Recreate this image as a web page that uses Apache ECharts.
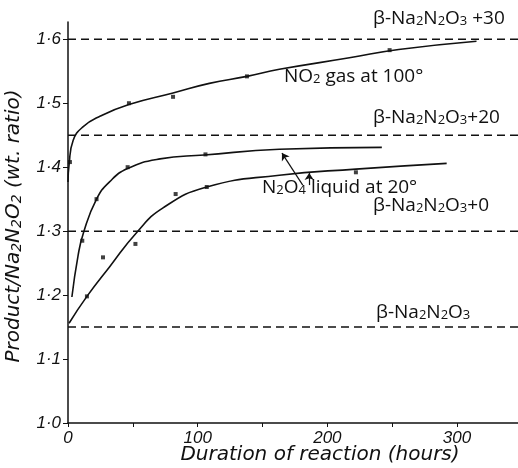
<!DOCTYPE html>
<head>
    <meta charset="utf-8">
    <title>Fig. 2</title>
    <style>
        html, body { margin: 0; padding: 0; background: #fff; }
        #chart { width: 518px; height: 468px; }
    </style>
</head>
<body>
    <div id="chart"></div>

    <script src="https://cdn.jsdelivr.net/npm/echarts@6/dist/echarts.min.js"></script>
    <script type="text/javascript">

// hours / weight ratio
var gasCurveX   = [0, 0.8, 4, 11.5, 25, 47, 81, 109, 138, 163, 217, 255, 315];
var gasCurveY   = [1.377, 1.403, 1.442, 1.463, 1.48, 1.498, 1.516, 1.531, 1.542, 1.553, 1.571, 1.584, 1.597];
var gasPointsX  = [1.5, 47, 81, 138, 248];
var gasPointsY  = [1.408, 1.50, 1.51, 1.542, 1.583];

var liqACurveX  = [3, 7.7, 12, 22, 32, 46, 71, 105, 163, 242];
var liqACurveY  = [1.197, 1.261, 1.298, 1.35, 1.377, 1.398, 1.413, 1.419, 1.428, 1.431];
var liqAPointsX = [11, 22, 46, 106];
var liqAPointsY = [1.285, 1.35, 1.40, 1.42];

var liqBCurveX  = [0.8, 14.6, 32, 53, 73, 107, 163, 222, 292];
var liqBCurveY  = [1.156, 1.198, 1.244, 1.298, 1.336, 1.369, 1.3875, 1.397, 1.406];
var liqBPointsX = [14.6, 27, 52, 83, 107, 222];
var liqBPointsY = [1.198, 1.259, 1.28, 1.358, 1.369, 1.392];

var refLevels   = [1.6, 1.45, 1.3, 1.15];
var yTicks      = [1.0, 1.1, 1.2, 1.3, 1.4, 1.5, 1.6];
var xTicks      = [0, 50, 100, 150, 200, 250, 300];
var xLabels     = [0, 100, 200, 300];

var xMax = 347, yMin = 1.0, yMax = 1.627;

function pairs(xs, ys) {
    return xs.map(function (x, i) { return [x, ys[i]]; });
}

var ink = '#111';
var italicFont = 'DejaVu Sans';
var plainFont = 'Open Sans';
var subRich = { s: { fontSize: 13, lineHeight: 13, verticalAlign: 'bottom', fontFamily: plainFont, fill: ink } };

var myChart = echarts.init(document.getElementById('chart'));

var dashed = refLevels.map(function (v) {
    return {
        type: 'line',
        data: [[0, v], [xMax, v]],
        showSymbol: false,
        silent: true,
        lineStyle: { color: ink, width: 1.5, type: [8, 5] }
    };
});

function curve(xs, ys) {
    return {
        type: 'line',
        data: pairs(xs, ys),
        smooth: 0.5,
        showSymbol: false,
        lineStyle: { color: ink, width: 1.6 }
    };
}

function dots(xs, ys) {
    return {
        type: 'scatter',
        data: pairs(xs, ys),
        symbol: 'rect',
        symbolSize: 4,
        itemStyle: { color: ink }
    };
}

function refLabel(text, left, top) {
    return {
        type: 'text', left: left, top: top,
        style: { text: text, rich: subRich, font: '19px "' + plainFont + '"', fill: ink }
    };
}

myChart.setOption({
    animation: false,
    grid: { left: 68, right: 0, top: 22, bottom: 45 },
    xAxis: {
        type: 'value', min: 0, max: xMax,
        splitLine: { show: false },
        axisLine: { lineStyle: { color: ink, width: 1.5 } },
        axisTick: { customValues: xTicks, length: 4, lineStyle: { color: ink } },
        axisLabel: {
            customValues: xLabels, color: ink, fontSize: 17, fontStyle: 'italic',
            fontFamily: 'Liberation Sans', margin: 7
        }
    },
    yAxis: {
        type: 'value', min: yMin, max: yMax,
        splitLine: { show: false },
        axisLine: { show: true, lineStyle: { color: ink, width: 1.5 } },
        axisTick: { show: true, customValues: yTicks, length: 5, lineStyle: { color: ink } },
        axisLabel: {
            customValues: yTicks, color: ink, fontSize: 17, fontStyle: 'italic',
            fontFamily: 'Liberation Sans', margin: 7,
            formatter: function (v) { return v.toFixed(1).replace('.', '·'); }
        }
    },
    series: dashed.concat([
        curve(gasCurveX, gasCurveY),
        curve(liqACurveX, liqACurveY),
        curve(liqBCurveX, liqBCurveY),
        dots(gasPointsX, gasPointsY),
        dots(liqAPointsX, liqAPointsY),
        dots(liqBPointsX, liqBPointsY),
        {
            type: 'line', data: [], silent: true,
            markLine: {
                silent: true, symbol: ['none', 'arrow'], symbolSize: 7,
                label: { show: false },
                lineStyle: { color: ink, width: 1.2, type: 'solid' },
                data: [
                    [{ coord: [181, 1.372] }, { coord: [165, 1.422] }],
                    [{ coord: [186, 1.372] }, { coord: [186, 1.391] }]
                ]
            }
        }
    ]),
    graphic: [
        { type: 'text', left: 226, top: -15,
          style: { text: 'FIG. 2.', font: '18px "Liberation Serif"', fill: ink } },
        refLabel('β-Na{s|2}N{s|2}O{s|3} +30', 373, 9),
        refLabel('β-Na{s|2}N{s|2}O{s|3}+20', 373, 108),
        refLabel('β-Na{s|2}N{s|2}O{s|3}+0', 373, 196),
        refLabel('β-Na{s|2}N{s|2}O{s|3}', 376, 303),
        refLabel('NO{s|2} gas at 100°', 284, 67),
        refLabel('N{s|2}O{s|4} liquid at 20°', 262, 178),
        {
            type: 'text', x: 320, y: 445,
            style: { text: 'Duration of reaction (hours)', font: 'italic 20px "' + italicFont + '"',
                     fill: ink, align: 'center', verticalAlign: 'top' }
        },
        {
            type: 'text', x: 4, y: 226, rotation: Math.PI / 2,
            style: {
                text: 'Product/Na{s|2}N{s|2}O{s|2} (wt. ratio)',
                font: 'italic 20px "' + italicFont + '"', fill: ink,
                align: 'center', verticalAlign: 'top',
                rich: { s: { fontSize: 14, lineHeight: 14, verticalAlign: 'bottom', fontStyle: 'italic', fontFamily: italicFont, fill: ink } }
            }
        }
    ]
});

window.onresize = function () { myChart.resize(); };

    </script>
</body>
